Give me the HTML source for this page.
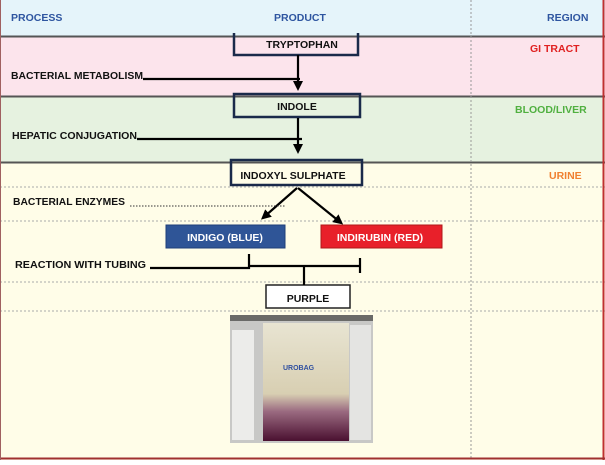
<!DOCTYPE html>
<html><head><style>
body{margin:0;width:605px;height:460px;overflow:hidden;background:#fff;}
svg text{font-family:"Liberation Sans",sans-serif;font-weight:bold;}
</style></head><body>
<svg width="605" height="460" viewBox="0 0 605 460" xmlns="http://www.w3.org/2000/svg">
<defs>
<marker id="ah" markerWidth="10" markerHeight="10" refX="6" refY="5" orient="auto" markerUnits="userSpaceOnUse"><path d="M0,0 L10,5 L0,10 Z" fill="#000"/></marker>
<linearGradient id="bag" x1="0" y1="0" x2="0" y2="1">
<stop offset="0" stop-color="#e8e4d2"/><stop offset="0.6" stop-color="#d8cfb2"/><stop offset="0.75" stop-color="#9a6a80"/><stop offset="1" stop-color="#4a1030"/></linearGradient>
</defs>
<rect x="0" y="0" width="605" height="36" fill="#e5f4fa"/>
<rect x="0" y="37" width="605" height="59" fill="#fce4ec"/>
<rect x="0" y="97" width="605" height="65" fill="#e6f2e0"/>
<rect x="0" y="163" width="605" height="297" fill="#fffde8"/>
<line x1="0" y1="36.5" x2="605" y2="36.5" stroke="#555" stroke-width="2"/>
<line x1="0" y1="96.5" x2="605" y2="96.5" stroke="#555" stroke-width="2"/>
<line x1="0" y1="162.5" x2="605" y2="162.5" stroke="#555" stroke-width="2"/>
<g stroke="#aaa" stroke-width="1" stroke-dasharray="2,2">
<line x1="0" y1="187" x2="605" y2="187"/><line x1="0" y1="221" x2="605" y2="221"/>
<line x1="0" y1="282" x2="605" y2="282"/><line x1="0" y1="311" x2="605" y2="311"/>
<line x1="471" y1="0" x2="471" y2="460" stroke="#999"/>
</g>
<line x1="603.5" y1="0" x2="603.5" y2="460" stroke="#c03030" stroke-width="2"/>
<line x1="0" y1="458.5" x2="605" y2="458.5" stroke="#a03030" stroke-width="2"/>
<line x1="0.5" y1="0" x2="0.5" y2="460" stroke="#a06060" stroke-width="1"/>
<g font-size="10.5" fill="#2e55a0">
<text x="11" y="21">PROCESS</text><text x="274" y="21">PRODUCT</text><text x="547" y="21">REGION</text></g>
<text x="530" y="52" font-size="10.5" fill="#e02020">GI TRACT</text>
<text x="515" y="113" font-size="10.5" fill="#50b040">BLOOD/LIVER</text>
<text x="549" y="179" font-size="10.5" fill="#f08030">URINE</text>
<g font-size="10.5" fill="#111">
<text x="11" y="79" textLength="132" lengthAdjust="spacingAndGlyphs">BACTERIAL METABOLISM</text>
<text x="12" y="139" textLength="125" lengthAdjust="spacingAndGlyphs">HEPATIC CONJUGATION</text>
<text x="13" y="205" textLength="112" lengthAdjust="spacingAndGlyphs">BACTERIAL ENZYMES</text>
<text x="15" y="268" textLength="131" lengthAdjust="spacingAndGlyphs">REACTION WITH TUBING</text>
</g>
<g fill="none" stroke="#1a2a4a" stroke-width="2.5">
<path d="M234,33 V55 H358 V33"/>
<rect x="234" y="94" width="126" height="23"/>
<rect x="231" y="160" width="131" height="25"/>
</g>
<rect x="266" y="285" width="84" height="23" fill="#fff" stroke="#222" stroke-width="1.5"/>
<rect x="166" y="225" width="119" height="23" fill="#2f5597" stroke="#1f3f7a"/>
<rect x="321" y="225" width="121" height="23" fill="#e8202a" stroke="#b01818"/>
<g font-size="10.5" text-anchor="middle">
<text x="302" y="48" fill="#111">TRYPTOPHAN</text>
<text x="297" y="110" fill="#111">INDOLE</text>
<text x="293" y="179" fill="#111">INDOXYL SULPHATE</text>
<text x="225" y="241" fill="#fff">INDIGO (BLUE)</text>
<text x="380" y="241" fill="#fff">INDIRUBIN (RED)</text>
<text x="308" y="302" fill="#111">PURPLE</text>
</g>
<g stroke="#000" stroke-width="2.2">
<line x1="143" y1="79" x2="300" y2="79"/>
<line x1="298" y1="55" x2="298" y2="87" marker-end="url(#ah)"/>
<line x1="137" y1="139" x2="302" y2="139"/>
<line x1="298" y1="118" x2="298" y2="150" marker-end="url(#ah)"/>
<line x1="297" y1="188" x2="264" y2="217" marker-end="url(#ah)"/>
<line x1="298" y1="188" x2="340" y2="222" marker-end="url(#ah)"/>
<line x1="150" y1="268" x2="250" y2="268"/>
<line x1="249" y1="254" x2="249" y2="269"/>
<line x1="249" y1="266" x2="360" y2="266"/>
<line x1="360" y1="258" x2="360" y2="273"/>
<line x1="304" y1="266" x2="304" y2="285"/>
</g>
<line x1="130" y1="206" x2="285" y2="206" stroke="#333" stroke-width="1" stroke-dasharray="1.5,1.5"/>
<rect x="230" y="315" width="143" height="128" fill="#c8c8c6"/>
<rect x="232" y="330" width="22" height="110" fill="#ececea"/>
<rect x="350" y="325" width="21" height="115" fill="#e4e4e2"/>
<rect x="263" y="323" width="86" height="118" fill="url(#bag)"/>
<rect x="230" y="315" width="143" height="6" fill="#6a6a68"/>
<text x="283" y="370" font-size="7" fill="#3050a0">UROBAG</text>
</svg>
</body></html>
